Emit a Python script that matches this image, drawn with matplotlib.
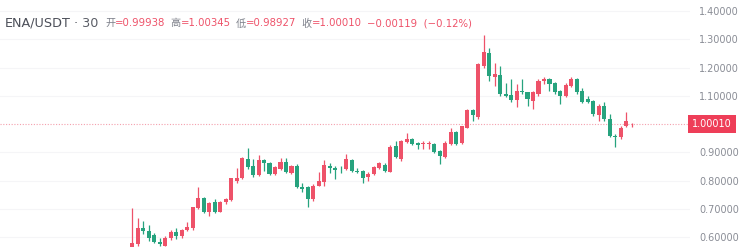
import matplotlib
matplotlib.use("Agg")
import matplotlib.pyplot as plt
import numpy as np
from matplotlib.transforms import blended_transform_factory

# 30m candles, ENA/USDT
opens = [0.560, 0.577, 0.633, 0.624, 0.607, 0.584, 0.571, 0.597, 0.618, 0.603,
         0.627, 0.632, 0.703, 0.738, 0.691, 0.724, 0.691, 0.724, 0.732, 0.800,
         0.808, 0.877, 0.851, 0.820, 0.874, 0.862, 0.824, 0.841, 0.865, 0.827,
         0.853, 0.779, 0.777, 0.735, 0.783, 0.794, 0.853, 0.844, 0.843, 0.841,
         0.874, 0.835, 0.835, 0.812, 0.824, 0.844, 0.855, 0.832, 0.923, 0.877,
         0.938, 0.949, 0.935, 0.930, 0.930, 0.929, 0.906, 0.883, 0.929, 0.971,
         0.933, 0.988, 1.050, 1.024, 1.204, 1.253, 1.168, 1.173, 1.108, 1.104,
         1.086, 1.117, 1.112, 1.082, 1.106, 1.153, 1.159, 1.144, 1.117, 1.100,
         1.135, 1.160, 1.117, 1.088, 1.082, 1.032, 1.065, 1.018, 0.959, 0.953,
         0.994, 0.99938]
closes = [0.580, 0.632, 0.621, 0.597, 0.585, 0.576, 0.598, 0.618, 0.604, 0.626,
          0.638, 0.706, 0.738, 0.691, 0.720, 0.691, 0.726, 0.735, 0.808, 0.811,
          0.880, 0.847, 0.820, 0.874, 0.862, 0.824, 0.847, 0.865, 0.830, 0.851,
          0.777, 0.771, 0.735, 0.783, 0.800, 0.855, 0.844, 0.839, 0.840, 0.877,
          0.835, 0.830, 0.808, 0.824, 0.847, 0.862, 0.835, 0.918, 0.885, 0.941,
          0.947, 0.929, 0.926, 0.934, 0.934, 0.902, 0.888, 0.935, 0.971, 0.929,
          0.992, 1.050, 1.032, 1.212, 1.255, 1.170, 1.176, 1.106, 1.101, 1.085,
          1.117, 1.112, 1.088, 1.112, 1.153, 1.159, 1.141, 1.112, 1.100, 1.138,
          1.160, 1.112, 1.079, 1.079, 1.035, 1.065, 1.018, 0.959, 0.953, 0.988,
          1.012, 1.00010]
highs = [0.703, 0.668, 0.659, 0.644, 0.614, 0.598, 0.604, 0.627, 0.632, 0.630,
         0.655, 0.708, 0.777, 0.742, 0.724, 0.735, 0.730, 0.740, 0.811, 0.844,
         0.883, 0.914, 0.877, 0.891, 0.877, 0.865, 0.853, 0.879, 0.879, 0.856,
         0.858, 0.791, 0.780, 0.790, 0.832, 0.874, 0.862, 0.851, 0.853, 0.894,
         0.877, 0.845, 0.838, 0.830, 0.853, 0.866, 0.862, 0.926, 0.941, 0.945,
         0.968, 0.952, 0.938, 0.940, 0.940, 0.935, 0.910, 0.940, 0.985, 0.975,
         0.995, 1.052, 1.052, 1.215, 1.314, 1.271, 1.218, 1.204, 1.147, 1.161,
         1.141, 1.159, 1.115, 1.117, 1.160, 1.165, 1.164, 1.150, 1.120, 1.145,
         1.166, 1.163, 1.129, 1.100, 1.085, 1.070, 1.077, 1.035, 0.965, 0.992,
         1.043, 1.00345]
lows = [0.555, 0.570, 0.612, 0.588, 0.579, 0.570, 0.568, 0.592, 0.594, 0.599,
        0.624, 0.627, 0.700, 0.686, 0.677, 0.686, 0.688, 0.718, 0.730, 0.792,
        0.805, 0.843, 0.812, 0.818, 0.835, 0.820, 0.822, 0.838, 0.826, 0.824,
        0.773, 0.760, 0.708, 0.730, 0.780, 0.780, 0.826, 0.806, 0.826, 0.838,
        0.830, 0.826, 0.792, 0.800, 0.820, 0.840, 0.830, 0.830, 0.880, 0.871,
        0.935, 0.925, 0.912, 0.911, 0.911, 0.898, 0.859, 0.880, 0.925, 0.925,
        0.930, 0.985, 1.012, 1.018, 1.200, 1.153, 1.135, 1.100, 1.095, 1.078,
        1.059, 1.106, 1.063, 1.053, 1.100, 1.141, 1.117, 1.108, 1.071, 1.095,
        1.130, 1.108, 1.075, 1.074, 1.030, 1.012, 1.012, 0.955, 0.918, 0.948,
        0.990, 0.98927]

price_ticks = [0.6, 0.7, 0.8, 0.9, 1.1, 1.2, 1.3, 1.4]
header_parts = [("开", "=0.99938"), ("高", "=1.00345"), ("低", "=0.98927"), ("收", "=1.00010")]
change_text = "\u22120.00119  (\u22120.12%)"

UP = "#ee5269"
DOWN = "#27a37e"
FONTS = ["DejaVu Sans", "Noto Sans CJK SC"]

o = np.array(opens)
c = np.array(closes)
h = np.array(highs)
l = np.array(lows)
idx = np.arange(len(o))
colors = np.where(c >= o, UP, DOWN)

fig = plt.figure(figsize=(7.5, 2.47), dpi=100)
ax = fig.add_axes([0, 0, 0.92, 1])

for y in price_ticks:
    ax.axhline(y, color="#f5f5f7", lw=0.8, zorder=0)

ax.vlines(idx, l, h, colors=colors, lw=0.9, zorder=2)
body = np.maximum(np.abs(c - o), 0.002)
ax.bar(idx, body, bottom=np.minimum(o, c), width=0.74, color=colors, zorder=3)

last = closes[-1]
ax.axhline(last, color="#f4a0ad", lw=0.8, ls=(0, (1, 1.5)), zorder=1)

ax.set_xlim(-24.1, 101.6)
ax.set_ylim(0.5657, 1.439)
for s in ax.spines.values():
    s.set_visible(False)
ax.set_xticks([])
ax.yaxis.tick_right()
ax.set_yticks(price_ticks)
ax.set_yticklabels(["%.5f" % v for v in price_ticks])
ax.tick_params(axis="y", length=0, pad=6.5, labelsize=7, labelcolor="#8a8d96")

# last price badge
tr = blended_transform_factory(ax.transAxes, ax.transData)
ax.text(1.003, last, "%.5f" % last, transform=tr, ha="left", va="center",
        fontsize=7, color="white", clip_on=False, zorder=5,
        bbox=dict(boxstyle="square,pad=0.4", fc="#ee3e58", ec="none"))

# header line
renderer = fig.canvas.get_renderer()
W = fig.bbox.width


def put(x, text, color, size):
    t = fig.text(x, 0.905, text, color=color, fontsize=size, va="center",
                 ha="left", family=FONTS)
    return t.get_window_extent(renderer).x1 / W


x = put(5 / W, "ENA/USDT", "#4b4e58", 9.2)
x = put(x + 3 / W, "\u00b7 30", "#5a5d66", 9.2)
x += 7 / W
for lab, val in header_parts:
    x = put(x, lab, "#7d808a", 7.3)
    x = put(x, val, UP, 7.3) + 5 / W
x = put(x, change_text, UP, 7.3)

fig.savefig("out.png", dpi=100)
